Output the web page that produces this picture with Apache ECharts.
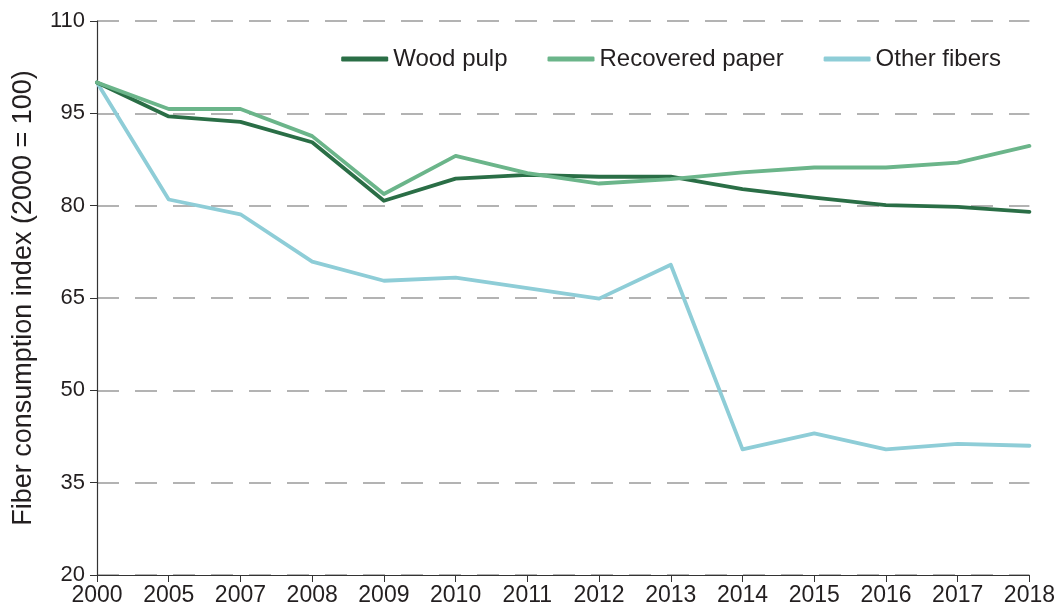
<!DOCTYPE html>
<html>
<head>
<meta charset="utf-8">
<script src="https://cdn.jsdelivr.net/npm/echarts@6/dist/echarts.min.js"></script>
<style>
html,body{margin:0;padding:0;background:#fff;}
#chart{width:1058px;height:613px;}
</style>
</head>
<body>
<div id="chart"></div>
<script>
const categories = ['2000','2005','2007','2008','2009','2010','2011','2012','2013','2014','2015','2016','2017','2018'];
const woodPulp = [100, 94.5, 93.6, 90.3, 80.8, 84.4, 85.0, 84.7, 84.7, 82.7, 81.3, 80.1, 79.8, 79.0];
const recoveredPaper = [100, 95.7, 95.7, 91.3, 81.9, 88.1, 85.3, 83.6, 84.3, 85.4, 86.2, 86.2, 87.0, 89.7];
const otherFibers = [100, 81.0, 78.6, 70.9, 67.8, 68.3, 66.6, 64.9, 70.4, 40.4, 43.0, 40.4, 41.3, 41.0];
const seriesNames = ['Wood pulp', 'Recovered paper', 'Other fibers'];
const yAxisTitle = 'Fiber consumption index (2000 = 100)';

const colors = ['#2a6e46', '#6bb58a', '#8ecdd7'];
const font = 'Liberation Sans, Arial, sans-serif';
const textColor = '#231f20';

const chart = echarts.init(document.getElementById('chart'), null, {renderer: 'canvas'});
const mk = (name, data, color, z) => ({
  name, type: 'line', data, symbol: 'none', z,
  lineStyle: {color, width: 3.8, cap: 'round', join: 'round'},
  itemStyle: {color},
  emphasis: {disabled: true}
});
chart.setOption({
  animation: false,
  backgroundColor: '#fff',
  grid: {left: 97, right: 27, top: 21, bottom: 38, containLabel: false},
  legend: {
    data: seriesNames,
    right: 52, top: 42,
    icon: 'roundRect',
    itemWidth: 47, itemHeight: 5, itemGap: 40,
    textStyle: {fontFamily: font, fontSize: 24, color: textColor}
  },
  xAxis: {
    type: 'category', data: categories, boundaryGap: false,
    axisLine: {lineStyle: {color: '#333', width: 1.2}},
    axisTick: {show: true, length: 7, alignWithLabel: true, lineStyle: {color: '#333'}},
    axisLabel: {fontFamily: font, fontSize: 23, color: textColor, margin: 9, interval: 0},
    splitLine: {show: false}
  },
  yAxis: {
    type: 'value', min: 20, max: 110, interval: 15,
    name: yAxisTitle, nameLocation: 'middle', nameGap: 60,
    nameTextStyle: {fontFamily: font, fontSize: 27, color: textColor},
    axisLine: {show: true, lineStyle: {color: '#333', width: 1.2}},
    axisTick: {show: true, length: 7, lineStyle: {color: '#333'}},
    axisLabel: {fontFamily: font, fontSize: 22, color: textColor, margin: 12},
    splitLine: {show: true, lineStyle: {color: '#9a9a9a', width: 1.5, type: [22, 16]}}
  },
  series: [
    mk(seriesNames[2], otherFibers, colors[2], 2),
    mk(seriesNames[0], woodPulp, colors[0], 3),
    mk(seriesNames[1], recoveredPaper, colors[1], 4)
  ]
});
</script>
</body>
</html>
